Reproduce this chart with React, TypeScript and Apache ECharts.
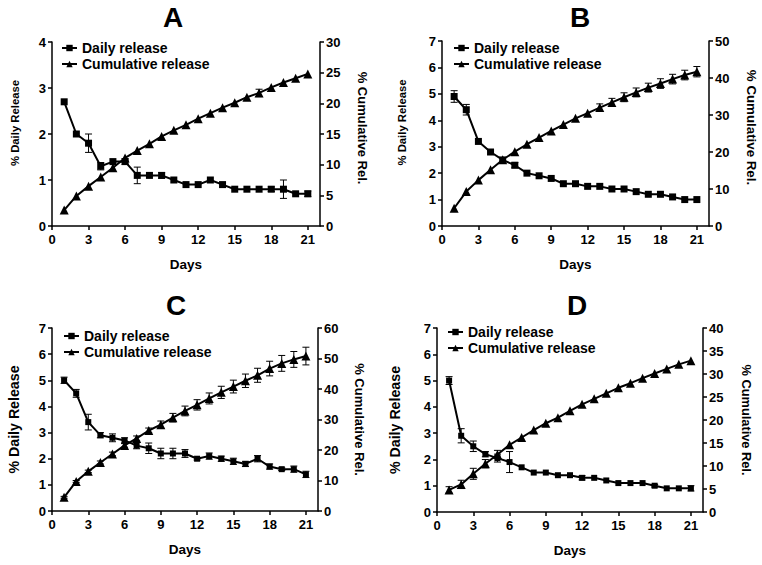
import React, { useEffect, useRef } from "react";
import * as echarts from "echarts";

const days = [1, 2, 3, 4, 5, 6, 7, 8, 9, 10, 11, 12, 13, 14, 15, 16, 17, 18, 19, 20, 21];
const xTicks = [0, 3, 6, 9, 12, 15, 18, 21];
const panelTitles = ["A", "B", "C", "D"];
const seriesNames = ["Daily release", "Cumulative release"];

const dailyA = [2.7, 2.0, 1.8, 1.3, 1.4, 1.4, 1.1, 1.1, 1.1, 1.0, 0.9, 0.9, 1.0, 0.9, 0.8, 0.8, 0.8, 0.8, 0.8, 0.7, 0.7];
const dailyErrA = [0, 0, 0.2, 0.08, 0, 0.06, 0.18, 0, 0.06, 0, 0, 0, 0, 0, 0, 0, 0, 0.05, 0.2, 0, 0.06];
const cumA = [2.6, 4.9, 6.5, 8.0, 9.5, 11.1, 12.3, 13.4, 14.6, 15.6, 16.5, 17.5, 18.4, 19.3, 20.1, 21.0, 21.7, 22.6, 23.4, 24.1, 24.8];
const cumErrA = [0, 0, 0, 0, 0, 0, 0, 0, 0, 0, 0, 0, 0, 0, 0, 0, 0.6, 0, 0, 0, 0];

const dailyB = [4.9, 4.4, 3.2, 2.8, 2.5, 2.3, 2.0, 1.9, 1.8, 1.6, 1.6, 1.5, 1.5, 1.4, 1.4, 1.3, 1.2, 1.2, 1.1, 1.0, 1.0];
const dailyErrB = [0.22, 0.2, 0, 0, 0, 0.1, 0, 0, 0, 0, 0, 0, 0, 0, 0, 0, 0, 0, 0, 0, 0];
const cumB = [4.8, 9.3, 12.4, 15.2, 17.9, 20.1, 22.1, 23.9, 25.7, 27.4, 29.1, 30.5, 32.0, 33.4, 34.8, 36.1, 37.4, 38.5, 39.7, 40.8, 41.7];
const cumErrB = [0, 0, 0, 0, 0, 0, 0, 0, 0, 0, 0, 0, 1.0, 1.1, 1.2, 1.2, 1.2, 1.3, 1.3, 1.3, 1.4];

const dailyC = [5.0, 4.5, 3.4, 2.9, 2.8, 2.7, 2.5, 2.4, 2.2, 2.2, 2.2, 2.0, 2.1, 2.0, 1.9, 1.8, 2.0, 1.7, 1.6, 1.6, 1.4];
const dailyErrC = [0.12, 0.15, 0.3, 0.1, 0.15, 0.1, 0.12, 0.2, 0.2, 0.2, 0.15, 0.05, 0.12, 0.1, 0.12, 0.1, 0.12, 0.1, 0.05, 0.12, 0.12];
const cumC = [4.5, 9.7, 13.0, 15.9, 18.7, 21.5, 23.8, 26.4, 28.3, 30.6, 32.8, 34.8, 36.9, 38.9, 40.8, 42.7, 44.5, 46.7, 48.4, 49.7, 50.8];
const cumErrC = [0.3, 0.3, 0.4, 0.5, 0.6, 0.6, 0.8, 0.8, 1.2, 1.4, 1.6, 1.7, 1.8, 2.0, 2.1, 2.2, 2.3, 2.4, 2.6, 2.6, 2.9];

const dailyD = [5.0, 2.9, 2.5, 2.2, 2.05, 1.9, 1.7, 1.5, 1.5, 1.4, 1.4, 1.3, 1.3, 1.2, 1.1, 1.1, 1.1, 1.0, 0.9, 0.9, 0.9];
const dailyErrD = [0.15, 0.27, 0.2, 0.1, 0.15, 0.4, 0, 0, 0, 0, 0, 0.08, 0, 0, 0, 0, 0, 0.05, 0, 0, 0.1];
const cumD = [4.8, 6.0, 8.3, 10.5, 12.5, 14.6, 16.2, 17.8, 19.3, 20.5, 22.0, 23.4, 24.6, 25.8, 27.0, 28.0, 29.1, 30.1, 31.1, 32.1, 32.9];
const cumErrD = [0.7, 0.9, 1.2, 0.9, 0.9, 0, 0, 0, 0, 0, 0, 0, 0, 0, 0, 0, 0, 0, 0, 0, 0];

const leftMax = [4, 7, 7, 7];
const rightMax = [30, 50, 60, 40];
const rightInterval = [5, 10, 10, 5];

const dailyAll = [dailyA, dailyB, dailyC, dailyD];
const dailyErrAll = [dailyErrA, dailyErrB, dailyErrC, dailyErrD];
const cumAll = [cumA, cumB, cumC, cumD];
const cumErrAll = [cumErrA, cumErrB, cumErrC, cumErrD];

// layout (pixels)
const grids = [
  { left: 52, top: 42, width: 268, height: 184 },
  { left: 442, top: 41, width: 267, height: 185 },
  { left: 52, top: 328, width: 266, height: 183 },
  { left: 437, top: 328, width: 266, height: 184 },
];
const titlePos = [
  [173, 17],
  [580, 17],
  [176, 305],
  [577, 305],
];
const legendPos = [
  { left: 56, top: 36 },
  { left: 448, top: 36 },
  { left: 58, top: 324 },
  { left: 442, top: 320 },
];
const leftNameGap = [32, 35, 31, 35];
const leftNameSize = [11.3, 11.3, 14.2, 14.2];
const leftNamePad = [
  [0, 0, 0, 22],
  [0, 0, 0, 22],
  [0, 0, 0, 0],
  [0, 0, 0, 0],
];
const rightNameGap = [36, 36, 35, 37];
const rightNameSize = [13, 13.3, 13, 12.8];
const rightNamePad = [
  [0, 12, 0, 0],
  [0, 12, 0, 0],
  [0, 0, 0, 0],
  [0, 0, 0, 0],
];
const squareSize = [7, 7, 6, 6];

const FONT = "'Liberation Sans', Arial, sans-serif";

function errRender(params: any, api: any) {
  const x = api.value(0);
  const y = api.value(1);
  const e = api.value(2);
  if (!e) return null;
  const top = api.coord([x, y + e]);
  const bot = api.coord([x, y - e]);
  const w = 3.5;
  const st = { stroke: "#000", lineWidth: 1 };
  return {
    type: "group",
    children: [
      { type: "line", shape: { x1: top[0], y1: top[1], x2: bot[0], y2: bot[1] }, style: st },
      { type: "line", shape: { x1: top[0] - w, y1: top[1], x2: top[0] + w, y2: top[1] }, style: st },
      { type: "line", shape: { x1: bot[0] - w, y1: bot[1], x2: bot[0] + w, y2: bot[1] }, style: st },
    ],
  };
}

export default function App() {
  const ref = useRef<HTMLDivElement>(null);
  useEffect(() => {
    const chart = echarts.init(ref.current!, null, { renderer: "svg" });
    const axisLine = { show: true, onZero: false, lineStyle: { color: "#000", width: 1.5 } };
    const axisTick = { show: true, length: 4, inside: false, lineStyle: { color: "#000", width: 1.5 } };
    const labelStyle = { color: "#000", fontSize: 13, fontWeight: "bold" as const, fontFamily: FONT };

    const xAxis: any[] = [];
    const yAxis: any[] = [];
    const series: any[] = [];
    const legend: any[] = [];
    const graphic: any[] = [];

    for (let i = 0; i < 4; i++) {
      xAxis.push({
        type: "value",
        gridIndex: i,
        min: 0,
        max: 22,
        interval: 3,
        name: "Days",
        nameLocation: "middle",
        nameGap: 31,
        nameTextStyle: { color: "#000", fontSize: 13.5, fontWeight: "bold", fontFamily: FONT },
        axisLine,
        axisTick: { ...axisTick, customValues: xTicks },
        axisLabel: { ...labelStyle, margin: 7, customValues: xTicks },
        splitLine: { show: false },
      });
      yAxis.push({
        type: "value",
        gridIndex: i,
        position: "left",
        min: 0,
        max: leftMax[i],
        interval: 1,
        name: "% Daily Release",
        nameLocation: "middle",
        nameGap: leftNameGap[i],
        nameRotate: 90,
        nameTextStyle: {
          color: "#000",
          fontSize: leftNameSize[i],
          fontWeight: "bold",
          fontFamily: FONT,
          padding: leftNamePad[i],
        },
        axisLine,
        axisTick,
        axisLabel: { ...labelStyle, margin: 6 },
        splitLine: { show: false },
      });
      yAxis.push({
        type: "value",
        gridIndex: i,
        position: "right",
        min: 0,
        max: rightMax[i],
        interval: rightInterval[i],
        name: "% Cumulative Rel.",
        nameLocation: "middle",
        nameGap: rightNameGap[i],
        nameRotate: -90,
        nameTextStyle: {
          color: "#000",
          fontSize: rightNameSize[i],
          fontWeight: "bold",
          fontFamily: FONT,
          padding: rightNamePad[i],
        },
        axisLine,
        axisTick,
        axisLabel: { ...labelStyle, margin: 6 },
        splitLine: { show: false },
      });

      const dailyData = days.map((d, k) => [d, dailyAll[i][k]]);
      const cumData = days.map((d, k) => [d, cumAll[i][k]]);
      const dailyErr = days.map((d, k) => [d, dailyAll[i][k], dailyErrAll[i][k]]);
      const cumErr = days.map((d, k) => [d, cumAll[i][k], cumErrAll[i][k]]);

      series.push({
        type: "custom",
        name: "dailyErr" + i,
        xAxisIndex: i,
        yAxisIndex: i * 2,
        renderItem: errRender,
        encode: { x: 0, y: 1 },
        data: dailyErr,
        z: 2,
        silent: true,
      });
      series.push({
        type: "custom",
        name: "cumErr" + i,
        xAxisIndex: i,
        yAxisIndex: i * 2 + 1,
        renderItem: errRender,
        encode: { x: 0, y: 1 },
        data: cumErr,
        z: 2,
        silent: true,
      });
      series.push({
        type: "line",
        name: seriesNames[0],
        xAxisIndex: i,
        yAxisIndex: i * 2,
        data: dailyData,
        symbol: "rect",
        symbolSize: squareSize[i],
        lineStyle: { color: "#000", width: 2 },
        itemStyle: { color: "#000" },
        z: 3,
      });
      series.push({
        type: "line",
        name: seriesNames[1],
        xAxisIndex: i,
        yAxisIndex: i * 2 + 1,
        data: cumData,
        symbol: "triangle",
        symbolSize: 9,
        lineStyle: { color: "#000", width: 2 },
        itemStyle: { color: "#000" },
        z: 3,
      });

      legend.push({
        left: legendPos[i].left,
        top: legendPos[i].top,
        orient: "vertical",
        itemGap: 2,
        itemWidth: 15,
        itemHeight: 8,
        selectedMode: false,
        data: seriesNames,
        textStyle: { color: "#000", fontSize: 14, fontWeight: "bold", fontFamily: FONT },
      });

      graphic.push({
        type: "text",
        x: titlePos[i][0],
        y: titlePos[i][1],
        style: {
          text: panelTitles[i],
          fill: "#000",
          font: "bold 28px 'Liberation Sans', Arial, sans-serif",
          textAlign: "center",
          textVerticalAlign: "middle",
        },
      });
    }

    chart.setOption({
      animation: false,
      backgroundColor: "#fff",
      grid: grids.map((g) => ({ ...g, containLabel: false })),
      xAxis,
      yAxis,
      series,
      legend,
      graphic,
    });
    return () => chart.dispose();
  }, []);
  return <div ref={ref} style={{ position: "absolute", left: 0, top: 0, width: 762, height: 565 }} />;
}
